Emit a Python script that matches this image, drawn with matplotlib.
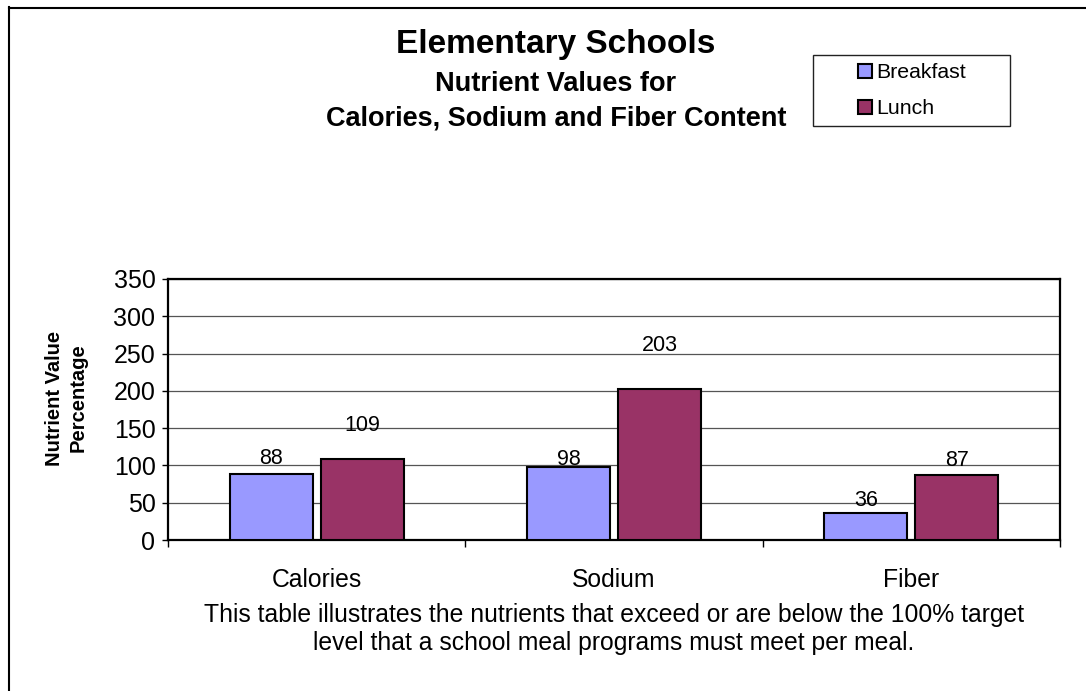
import numpy as np
import matplotlib
matplotlib.use("Agg")
import matplotlib.pyplot as plt
from matplotlib.patches import Patch, Rectangle
from matplotlib.lines import Line2D

plt.rcParams['font.family'] = ['Liberation Sans', 'DejaVu Sans']

# nutrient percentages per meal
categories = ['Calories', 'Sodium', 'Fiber']
breakfast = [88, 98, 36]
lunch = [109, 203, 87]
series_names = ['Breakfast', 'Lunch']
yticks = [0, 50, 100, 150, 200, 250, 300, 350]

# value label lift above each bar, in pixels
breakfast_lift = [16, 7, 13]
lunch_lift = [33, 43, 15]

W, H = 1086, 691
fig = plt.figure(figsize=(W / 100, H / 100), dpi=100)
ax = fig.add_axes([168 / W, 1 - 540 / H, (1060 - 168) / W, (540 - 279) / H])

x = np.arange(len(categories))
bw = 0.28
off = 0.153
b1 = ax.bar(x - off, breakfast, bw, color='#9999FF', edgecolor='black', linewidth=1.5, zorder=3)
b2 = ax.bar(x + off, lunch, bw, color='#993366', edgecolor='black', linewidth=1.5, zorder=3)

for bars, vals, lifts in [(b1, breakfast, breakfast_lift), (b2, lunch, lunch_lift)]:
    for rect, v, lift in zip(bars, vals, lifts):
        ax.annotate(str(v), (rect.get_x() + rect.get_width() / 2, v),
                    xytext=(0, lift * 0.72), textcoords='offset points',
                    ha='center', va='center', fontsize=15.5, zorder=4)

ax.set_xlim(-0.5, 2.5)
ax.set_ylim(0, 350)
ax.set_yticks(yticks)
ax.tick_params(axis='y', labelsize=18, length=4, width=1, direction='out', pad=5)
ax.yaxis.grid(True, color='#555555', linewidth=0.9)
ax.set_axisbelow(True)

# boundary ticks between categories, labels at centres
ax.set_xticks([-0.5, 0.5, 1.5, 2.5])
ax.set_xticklabels([])
ax.tick_params(axis='x', which='major', length=5, width=1, direction='out')
ax.set_xticks(x, minor=True)
ax.set_xticklabels(categories, minor=True)
ax.tick_params(axis='x', which='minor', length=0, labelsize=17.8, pad=20.5)

for s in ax.spines.values():
    s.set_linewidth(1.6)
    s.set_color('black')

# titles
fig.text(556 / W, 1 - 45 / H, 'Elementary Schools', ha='center', va='center',
         fontsize=24, fontweight='bold')
fig.text(556 / W, 1 - 84 / H, 'Nutrient Values for', ha='center', va='center',
         fontsize=19.5, fontweight='bold')
fig.text(556 / W, 1 - 118 / H, 'Calories, Sodium and Fiber Content', ha='center', va='center',
         fontsize=19.5, fontweight='bold')

fig.text(66 / W, 1 - 398 / H, 'Nutrient Value\nPercentage', rotation=90, ha='center', va='center',
         multialignment='center', fontsize=14.5, fontweight='bold', linespacing=1.3)

fig.text(614 / W, 1 - 629 / H,
         'This table illustrates the nutrients that exceed or are below the 100% target\n'
         'level that a school meal programs must meet per meal.',
         ha='center', va='center', multialignment='center', fontsize=17.8, linespacing=1.25)

# legend with its own frame
fig.add_artist(Rectangle((813 / W, 1 - 126 / H), (1010 - 813) / W, (126 - 55) / H,
                         transform=fig.transFigure, facecolor='white', edgecolor='#222222',
                         linewidth=1.0))
handles = [Patch(facecolor='#9999FF', edgecolor='black', linewidth=1.5),
           Patch(facecolor='#993366', edgecolor='black', linewidth=1.5)]
fig.legend(handles, series_names, loc='center', bbox_to_anchor=(912 / W, 1 - 91 / H),
           frameon=False, fontsize=15.3, handlelength=0.65, handleheight=0.65,
           handletextpad=0.2, labelspacing=0.8, borderpad=0)

# outer chart border (left and top)
fig.add_artist(Line2D([8.5 / W, 8.5 / W], [0, 1 - 7 / H], transform=fig.transFigure,
                      color='black', linewidth=1.5))
fig.add_artist(Line2D([8.5 / W, 1], [1 - 7.5 / H, 1 - 7.5 / H], transform=fig.transFigure,
                      color='black', linewidth=1.5))

fig.savefig('out.png', dpi=100)
